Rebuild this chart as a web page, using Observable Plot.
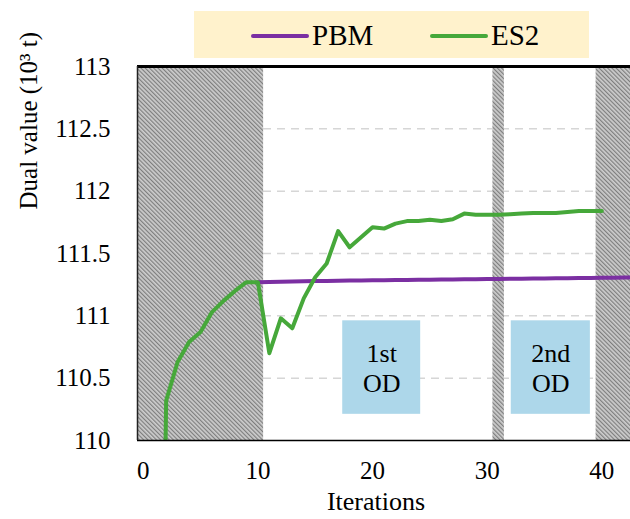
<!DOCTYPE html>
<html>
<head>
<meta charset="utf-8">
<script src="https://cdn.jsdelivr.net/npm/d3@7"></script>
<script src="https://cdn.jsdelivr.net/npm/@observablehq/plot@0.6"></script>
<style>
  body { margin: 0; background: #fff; }
  #wrap { position: relative; width: 630px; height: 519px; font-family: "Liberation Serif", serif; }
  #legend { position: absolute; left: 194px; top: 11px; width: 395px; height: 47px; background: #FFF2CC; }
  .sw { position: absolute; top: 23px; width: 58px; height: 4px; border-radius: 2px; }
  .lb { position: absolute; top: 6px; font-size: 29px; line-height: 36px; color: #000; font-family: "Liberation Serif", serif; }
  #chart { position: absolute; left: 0; top: 0; }
  #chart svg text { font-family: "Liberation Serif", serif; }
</style>
</head>
<body>
<div id="wrap"><div id="chart"></div><div id="legend"></div></div>
<script>
// ---- data ----
const seriesNames = ["PBM", "ES2"];
const seriesColors = ["#7B2FA2", "#46A83A"];

const iterPBM = [10, 11, 12, 13, 14, 15, 16, 17, 18, 19, 20, 21, 22, 23, 24, 25, 26, 27, 28, 29, 30, 31, 32, 33, 34, 35, 36, 37, 38, 39, 40, 41, 42, 43];
const valuePBM = [111.270, 111.272, 111.274, 111.276, 111.277, 111.279, 111.280, 111.282, 111.283, 111.284, 111.285, 111.286, 111.287, 111.288, 111.289, 111.290, 111.291, 111.292, 111.293, 111.294, 111.295, 111.296, 111.297, 111.298, 111.299, 111.300, 111.301, 111.302, 111.303, 111.304, 111.305, 111.306, 111.307, 111.308];

const iterES2 = [1, 2, 3, 4, 5, 6, 7, 8, 9, 10, 11, 12, 13, 14, 15, 16, 17, 18, 19, 20, 21, 22, 23, 24, 25, 26, 27, 28, 29, 30, 31, 32, 33, 34, 35, 36, 37, 38, 39, 40];
const valueES2 = [104.0, 110.32, 110.63, 110.79, 110.87, 111.03, 111.12, 111.20, 111.27, 111.27, 110.70, 110.98, 110.90, 111.14, 111.31, 111.42, 111.68, 111.55, 111.63, 111.71, 111.70, 111.74, 111.76, 111.76, 111.77, 111.76, 111.775, 111.82, 111.81, 111.81, 111.81, 111.815, 111.82, 111.825, 111.825, 111.825, 111.833, 111.84, 111.84, 111.84];

const xTicks = [0, 10, 20, 30, 40];
const yTicks = [110, 110.5, 111, 111.5, 112, 112.5, 113];
const xDomain = [-0.5, 42.5];
const yDomain = [110, 113];

// shaded (hatched) iteration ranges
const hatchStart = [-0.5, 30.5, 39.5];
const hatchEnd = [10.5, 31.5, 42.5];

// OD annotation boxes
const odLabels = ["1st\nOD", "2nd\nOD"];
const odStart = [17.4, 32.1];
const odEnd = [24.2, 39.0];
const odLow = [110.21, 110.21];
const odHigh = [110.96, 110.96];

const xTitle = "Iterations";
const yTitle = "Dual value (10\u00B3 t)";

// ---- build tables ----
const hatch = hatchStart.map((s, i) => ({x1: s, x2: hatchEnd[i]}));
const od = odLabels.map((t, i) => ({label: t, x1: odStart[i], x2: odEnd[i], y1: odLow[i], y2: odHigh[i]}));
const pbm = iterPBM.map((x, i) => ({x, y: valuePBM[i]}));
const es2 = iterES2.map((x, i) => ({x, y: valueES2[i]}));

const font = '"Liberation Serif", serif';

const plot = Plot.plot({
  width: 630,
  height: 519,
  marginTop: 66,
  marginBottom: 79,
  marginLeft: 137,
  marginRight: 0,
  style: {fontFamily: font, fontSize: "25px", background: "transparent", color: "#000", overflow: "visible"},
  x: {domain: xDomain},
  y: {domain: yDomain},
  marks: [
    Plot.gridY(yTicks.slice(1, -1), {stroke: "#d6d6d6", strokeOpacity: 1, strokeWidth: 1.5, strokeDasharray: "8,6"}),
    Plot.rect(hatch, {x1: "x1", x2: "x2", fill: "url(#hatch)"}),
    Plot.rect(od, {x1: "x1", x2: "x2", y1: "y1", y2: "y2", fill: "#ADD7EA"}),
    Plot.text(od, {x: d => (d.x1 + d.x2) / 2, y: d => (d.y1 + d.y2) / 2, text: "label", fontSize: 26, lineHeight: 1.13, fill: "#000", fontFamily: font}),
    Plot.line(pbm, {x: "x", y: "y", stroke: seriesColors[0], strokeWidth: 4, clip: true}),
    Plot.line(es2, {x: "x", y: "y", stroke: seriesColors[1], strokeWidth: 4, clip: true, strokeLinejoin: "round"}),
    Plot.ruleY([yDomain[0]], {stroke: "#000", strokeWidth: 1.5}),
    Plot.ruleY([yDomain[1]], {stroke: "#000", strokeWidth: 3}),
    Plot.ruleX([xDomain[0]], {stroke: "#222", strokeWidth: 1.5}),
    Plot.axisY(yTicks, {tickSize: 0, tickPadding: 27, label: null, tickFormat: d => String(d), fontFamily: font}),
    Plot.axisX(xTicks, {tickSize: 0, tickPadding: 21, label: null, tickFormat: d => String(d), fontFamily: font}),
    Plot.text([xTitle], {text: d => d, frameAnchor: "bottom", dx: -8, dy: 69, fontSize: 26, fontFamily: font}),
    Plot.text([yTitle], {text: d => d, frameAnchor: "left", rotate: -90, dx: -109, dy: -44, fontSize: 25, fontFamily: font})
  ]
});

// hatch pattern definition
const ns = "http://www.w3.org/2000/svg";
const defs = document.createElementNS(ns, "defs");
defs.innerHTML = '<pattern id="hatch" patternUnits="userSpaceOnUse" width="3" height="3" patternTransform="rotate(-45)">' +
  '<rect width="3" height="3" fill="#cdcdcd"></rect><rect width="1.2" height="3" fill="#7e7e7e"></rect></pattern>';
plot.insertBefore(defs, plot.firstChild);

document.getElementById("chart").appendChild(plot);

// legend
const legend = document.getElementById("legend");
const swLeft = [57, 236];
seriesNames.forEach((name, i) => {
  const sw = document.createElement("span");
  sw.className = "sw";
  sw.style.left = swLeft[i] + "px";
  sw.style.background = seriesColors[i];
  legend.appendChild(sw);
  const lb = document.createElement("span");
  lb.className = "lb";
  lb.style.left = (swLeft[i] + 61) + "px";
  lb.textContent = name;
  legend.appendChild(lb);
});
</script>
</body>
</html>
